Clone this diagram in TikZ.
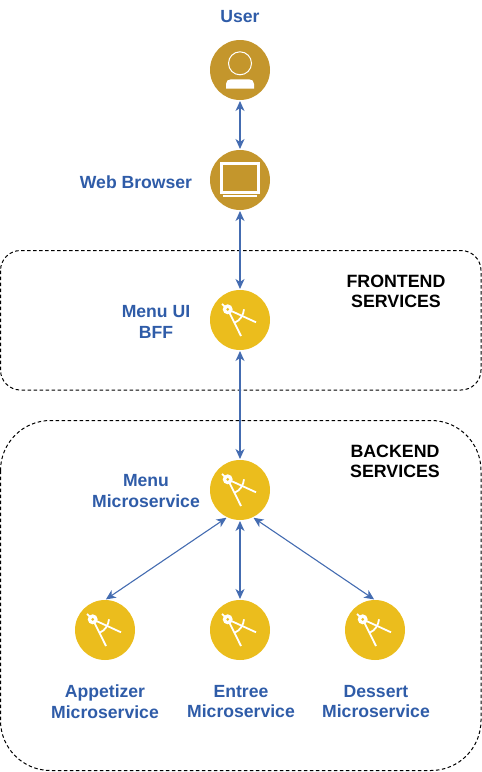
\documentclass[tikz,border=0pt]{standalone}
\usepackage{fontspec}
\setmainfont{Liberation Sans}
\usetikzlibrary{arrows.meta}
\definecolor{gold}{HTML}{C4962C}
\definecolor{yel}{HTML}{EBBD1D}
\definecolor{lab}{HTML}{2F5CA8}
\tikzset{
 x=1pt,y=-1pt,
 disc/.style={circle,minimum size=60pt,inner sep=0pt,outer sep=0pt},
 golddisc/.style={disc,fill=gold},
 yeldisc/.style={disc,fill=yel},
 lbl/.style={font=\bfseries\fontsize{17.6}{20.5}\selectfont,text=lab,align=center,inner sep=0pt},
 grp/.style={font=\bfseries\fontsize{17.8}{20.5}\selectfont,text=black,align=center,inner sep=0pt},
 zone/.style={draw=black,dash pattern=on 3.5pt off 2.5pt,line width=1pt},
 link/.style={draw=lab!90!white,line width=1.1pt,{Stealth[length=10pt,width=9pt,inset=3pt]}-{Stealth[length=10pt,width=9pt,inset=3pt]},shorten >=1pt,shorten <=1pt},
 compass/.pic={
  \draw[white,line width=1.8pt] (-12.3,-10.7) -- (1,16);
  \draw[white,line width=1.8pt] (-12.3,-10.7) -- (16,2.3);
  \draw[white,line width=1.8pt] (-5,2.5) .. controls (0,0.5) and (3.5,-5) .. (4,-10.7);
  \draw[white,line width=1.8pt] (-18,-16) -- (-12.3,-10.7);
  \fill[white] (-12.3,-10.7) circle (5);
  \fill[yel] (-12.3,-10.7) circle (1.5);
 }
}
\begin{document}
\begin{tikzpicture}
\useasboundingbox (0,0) rectangle (482,772);
\draw[zone,rounded corners=20pt] (0.5,250.5) rectangle (481,390);
\draw[zone,rounded corners=50pt] (0.5,420.5) rectangle (481,770.5);
\node[golddisc] (user) at (240,70) {};
\node[golddisc] (web) at (240,180) {};
\node[yeldisc] (bff) at (240,320) {};
\node[yeldisc] (menu) at (240,490) {};
\node[yeldisc] (app) at (105,630) {};
\node[yeldisc] (ent) at (240,630) {};
\node[yeldisc] (des) at (375,630) {};
% user icon
\draw[white,line width=1pt] (240,63.3) circle (11.5);
\fill[white] (226,88.7) -- (226,84) .. controls (226,81) and (228,79.3) .. (231,79.3) -- (249,79.3) .. controls (252,79.3) and (254,81) .. (254,84) -- (254,88.7) -- cycle;
% monitor icon
\draw[white,line width=2.6pt] (221.3,163.6) rectangle (258.7,192.7);
\fill[white] (223.3,195) rectangle (256.7,197.3);
\pic at (bff) {compass};
\pic at (menu) {compass};
\pic at (app) {compass};
\pic at (ent) {compass};
\pic at (des) {compass};
\draw[link] (user) -- (web);
\draw[link] (web) -- (bff);
\draw[link] (bff) -- (menu);
\draw[link] (menu.245) -- (app.north);
\draw[link] (menu) -- (ent);
\draw[link] (menu.295) -- (des.north);
\node[lbl] (t1) at (240,17) {User};
\node[lbl] (t2) at (136,182) {Web Browser};
\node[lbl] (t3) at (156,322) {Menu UI\\BFF};
\node[lbl] (t4) at (146,491) {Menu\\Microservice};
\node[lbl] (t5) at (105,701.5) {Appetizer\\Microservice};
\node[lbl] (t6) at (241,701.5) {Entree\\Microservice};
\node[lbl] (t7) at (376,701.5) {Dessert\\Microservice};
\node[grp] (t8) at (396,291.5) {FRONTEND\\SERVICES};
\node[grp] (t9) at (395,461.5) {BACKEND\\SERVICES};
\end{tikzpicture}
\end{document}
